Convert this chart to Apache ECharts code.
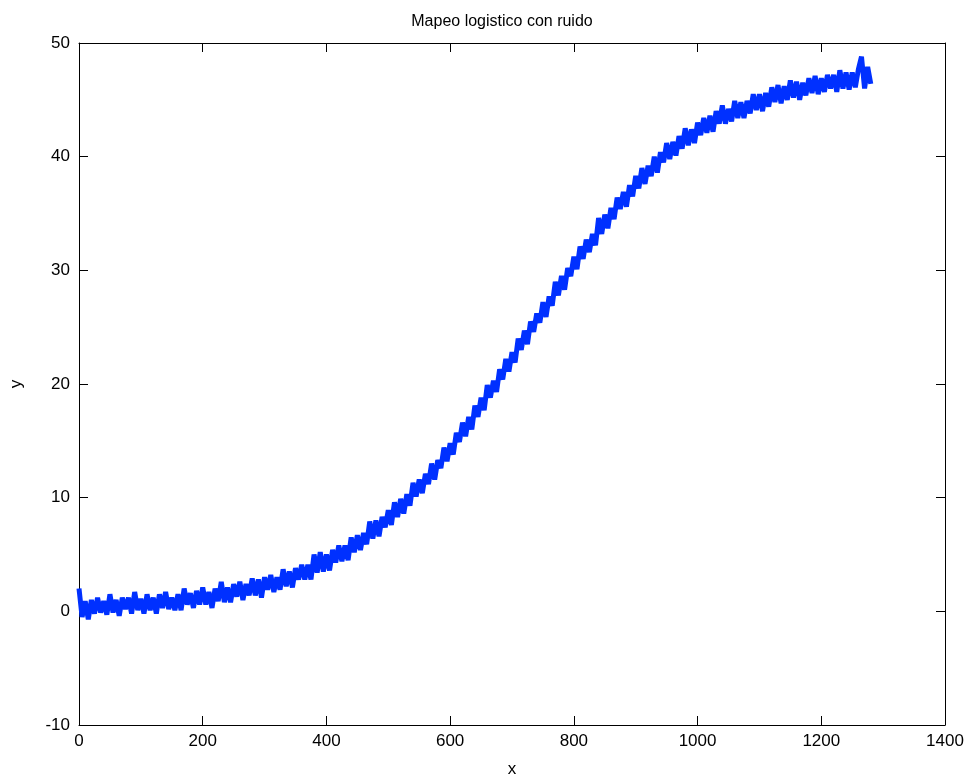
<!DOCTYPE html>
<html>
<head>
<meta charset="utf-8">
<script src="https://cdn.jsdelivr.net/npm/echarts@6/dist/echarts.min.js"></script>
<style>
  html, body { margin: 0; padding: 0; background: #fff; }
  #main { width: 968px; height: 783px; }
</style>
</head>
<body>
<div id="main"></div>
<script>
// samples are every 5 units of x, starting at 0
const xStart = 0;
const xStep = 5;
const yValues = [
  2.0, -0.5, 0.9, -0.7, 1.0, -0.2, 1.2, -0.1, 0.9, -0.3,
  1.5, -0.1, 1.0, -0.4, 1.2, 0.2, 1.2, -0.2, 1.7, 0.1,
  1.1, -0.2, 1.5, 0.1, 1.2, -0.2, 1.5, 0.3, 1.7, 0.2,
  1.2, 0.1, 1.5, 0.1, 2.0, 0.6, 1.6, 0.3, 1.8, 0.6,
  2.1, 0.6, 1.7, 0.3, 2.0, 0.9, 2.6, 0.8, 2.1, 0.8,
  2.4, 1.3, 2.6, 1.0, 2.4, 1.4, 2.9, 1.4, 2.8, 1.2,
  3.0, 1.9, 3.2, 1.7, 3.0, 1.9, 3.7, 2.2, 3.5, 2.1,
  3.8, 2.8, 4.1, 2.8, 4.1, 2.8, 5.0, 3.4, 5.2, 3.5,
  5.0, 3.6, 5.4, 4.3, 5.8, 4.4, 5.8, 4.5, 6.5, 5.2,
  6.7, 5.4, 6.9, 5.9, 7.9, 6.4, 8.0, 6.6, 8.3, 7.4,
  8.9, 7.6, 9.6, 8.3, 9.9, 8.6, 10.3, 9.3, 11.3, 10.1,
  11.6, 10.4, 12.1, 11.2, 13.0, 11.6, 13.3, 12.6, 14.4, 13.2,
  14.8, 13.8, 15.7, 14.9, 16.6, 15.4, 17.1, 16.0, 18.1, 17.1,
  18.8, 17.7, 19.9, 18.8, 20.3, 19.3, 21.3, 20.4, 22.2, 21.1,
  22.8, 21.9, 24.0, 23.0, 24.7, 23.5, 25.5, 24.6, 26.2, 25.4,
  27.2, 25.9, 27.7, 26.9, 29.0, 27.8, 29.5, 28.3, 30.2, 29.5,
  31.2, 30.1, 32.1, 31.0, 32.7, 31.6, 33.2, 32.2, 34.6, 33.2,
  34.9, 33.7, 35.5, 34.5, 36.4, 35.4, 36.9, 35.6, 37.5, 36.5,
  38.3, 37.2, 39.0, 37.6, 39.2, 38.3, 40.0, 38.6, 40.4, 39.5,
  41.2, 39.8, 41.3, 40.1, 41.8, 40.7, 42.5, 41.0, 42.4, 41.2,
  43.0, 41.9, 43.4, 42.1, 43.6, 42.2, 44.0, 42.9, 44.5, 42.9,
  44.2, 43.1, 44.9, 43.4, 44.8, 43.4, 44.9, 43.8, 45.5, 44.1,
  45.5, 44.0, 45.6, 44.4, 46.1, 44.8, 46.3, 44.7, 46.2, 45.0,
  46.7, 45.2, 46.6, 45.0, 46.5, 45.4, 46.9, 45.6, 47.1, 45.5,
  46.9, 45.7, 47.2, 46.0, 47.2, 45.7, 47.6, 46.0, 47.4, 45.9,
  47.4, 46.1, 47.7, 48.8, 46.0, 47.9, 46.4
];
const xTicks = [0, 200, 400, 600, 800, 1000, 1200, 1400];
const yTicks = [-10, 0, 10, 20, 30, 40, 50];

const chartDom = document.getElementById("main");
const myChart = echarts.init(chartDom);

const seriesData = yValues.map((v, i) => [xStart + i * xStep, v]);
const labelFont = "'Liberation Sans', Arial, sans-serif";
const plain = (v) => String(v);

const boxAxis = {
  axisLine: { show: true, onZero: false, lineStyle: { color: "#000", width: 1 } },
  axisTick: { show: true, inside: true, length: 9, lineStyle: { color: "#000" } },
  splitLine: { show: false },
};

const option = {
  animation: false,
  backgroundColor: "#fff",
  title: {
    text: "Mapeo logistico con ruido",
    left: 497,
    top: 9,
    textAlign: "center",
    textStyle: { fontFamily: labelFont, fontSize: 16, fontWeight: "normal", color: "#000" },
  },
  grid: { left: 79, right: 23, top: 43, bottom: 56, containLabel: false },
  xAxis: [
    Object.assign({
      type: "value",
      min: xTicks[0],
      max: xTicks[xTicks.length - 1],
      interval: 200,
      position: "bottom",
      name: "x",
      nameLocation: "middle",
      nameGap: 36,
      nameTextStyle: { fontFamily: labelFont, fontSize: 17, color: "#000" },
      axisLabel: { fontFamily: labelFont, fontSize: 17, color: "#000", margin: 8, formatter: plain },
    }, boxAxis),
    Object.assign({
      type: "value",
      min: xTicks[0],
      max: xTicks[xTicks.length - 1],
      interval: 200,
      position: "top",
      axisLabel: { show: false },
    }, boxAxis),
  ],
  yAxis: [
    Object.assign({
      type: "value",
      min: yTicks[0],
      max: yTicks[yTicks.length - 1],
      interval: 10,
      position: "left",
      name: "y",
      nameLocation: "middle",
      nameGap: 54,
      nameTextStyle: { fontFamily: labelFont, fontSize: 17, color: "#000" },
      axisLabel: { fontFamily: labelFont, fontSize: 17, color: "#000", margin: 9, formatter: plain },
    }, boxAxis),
    Object.assign({
      type: "value",
      min: yTicks[0],
      max: yTicks[yTicks.length - 1],
      interval: 10,
      position: "right",
      axisLabel: { show: false },
    }, boxAxis),
  ],
  series: [
    {
      name: "ruido",
      type: "line",
      xAxisIndex: 0,
      yAxisIndex: 0,
      data: seriesData,
      symbol: "none",
      lineStyle: { color: "#0030ff", width: 5, join: "miter", miterLimit: 2 },
    },
  ],
};

option && myChart.setOption(option);
</script>
</body>
</html>
